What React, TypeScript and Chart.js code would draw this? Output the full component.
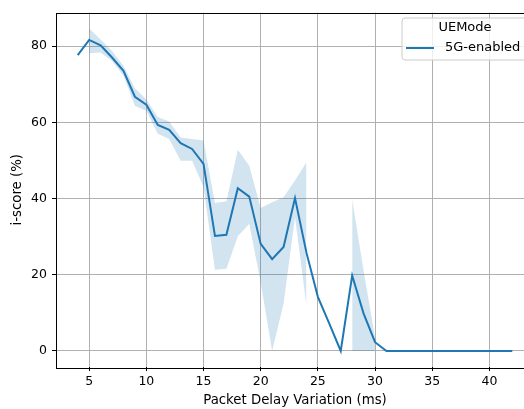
import React, { useEffect, useRef } from "react";
import { Chart, registerables } from "chart.js";

Chart.register(...registerables);

const delays = [4, 5, 6, 7, 8, 9, 10, 11, 12, 13, 14, 15, 16, 17, 18, 19, 20, 21, 22, 23, 24, 25, 26, 27, 28, 29, 30, 31, 32, 33, 34, 35, 36, 37, 38, 39, 40, 41, 42];
const meanScore = [77.6, 81.6, 80.2, 77.0, 73.5, 66.7, 64.6, 59.3, 58.0, 54.5, 53.0, 49.1, 30.2, 30.5, 42.7, 40.5, 28.1, 24.1, 27.3, 40.1, 25.8, 14.2, 7.2, 0, 19.8, 9.8, 2.3, 0, 0, 0, 0, 0, 0, 0, 0, 0, 0, 0, 0];
const upperCI = [null, 84.6, 81.7, 78.7, 74.8, 68.9, 66.0, 61.4, 60.2, 56.0, 55.6, 55.2, 38.8, 39.3, 52.8, 48.6, 37.5, 39.0, 40.3, 44.7, 49.5, null, null, null, 39.9, 21.0, 3.5, null, null, null, null, null, null, null, null, null, null, null, null];
const lowerCI = [null, 78.1, 78.3, 76.1, 72.2, 64.3, 63.0, 57.0, 55.6, 49.9, 49.9, 43.0, 21.3, 21.6, 30.1, 33.4, 18.0, 0, 12.4, 35.1, 12.0, null, null, null, 0, 0, 0, null, null, null, null, null, null, null, null, null, null, null, null];
const xTicks = [5, 10, 15, 20, 25, 30, 35, 40];
const yTicks = [0, 20, 40, 60, 80];
const legendTitle = "UEMode";
const seriesName = "5G-enabled";

const BLUE = "#1f77b4";
const FONT = "'DejaVu Sans', sans-serif";

const framePlugin = {
  id: "frame",
  afterDatasetsDraw(chart: any) {
    const { ctx, chartArea } = chart;
    ctx.save();
    ctx.strokeStyle = "#000";
    ctx.lineWidth = 1;
    ctx.strokeRect(
      Math.round(chartArea.left) + 0.5,
      Math.round(chartArea.top) + 0.5,
      Math.round(chartArea.right - chartArea.left),
      Math.round(chartArea.bottom - chartArea.top)
    );
    ctx.restore();
  },
};

const legendPlugin = {
  id: "mplLegend",
  afterDraw(chart: any) {
    const { ctx } = chart;
    const x0 = 402, y0 = 18, w = 126, h = 42;
    ctx.save();
    ctx.beginPath();
    const r = 3;
    ctx.moveTo(x0 + r, y0);
    ctx.lineTo(x0 + w - r, y0);
    ctx.arcTo(x0 + w, y0, x0 + w, y0 + r, r);
    ctx.lineTo(x0 + w, y0 + h - r);
    ctx.arcTo(x0 + w, y0 + h, x0 + w - r, y0 + h, r);
    ctx.lineTo(x0 + r, y0 + h);
    ctx.arcTo(x0, y0 + h, x0, y0 + h - r, r);
    ctx.lineTo(x0, y0 + r);
    ctx.arcTo(x0, y0, x0 + r, y0, r);
    ctx.closePath();
    ctx.fillStyle = "rgba(255,255,255,0.8)";
    ctx.fill();
    ctx.strokeStyle = "#cccccc";
    ctx.lineWidth = 1;
    ctx.stroke();
    ctx.fillStyle = "#000";
    ctx.font = `13px ${FONT}`;
    ctx.textBaseline = "middle";
    ctx.textAlign = "center";
    ctx.fillText(legendTitle, x0 + w / 2, 28);
    ctx.strokeStyle = BLUE;
    ctx.lineWidth = 2;
    ctx.beginPath();
    ctx.moveTo(406, 48);
    ctx.lineTo(434, 48);
    ctx.stroke();
    ctx.textAlign = "left";
    ctx.fillText(seriesName, 445, 48);
    ctx.restore();
  },
};

export default function App() {
  const ref = useRef<HTMLCanvasElement>(null);
  useEffect(() => {
    const canvas = ref.current!;
    const pts = (arr: (number | null)[]) => delays.map((x, i) => ({ x, y: arr[i] }));
    const chart = new Chart(canvas, {
      type: "line",
      data: {
        datasets: [
          {
            data: pts(upperCI) as any,
            borderWidth: 0,
            borderColor: "rgba(0,0,0,0)",
            backgroundColor: "rgba(31,119,180,0.2)",
            pointRadius: 0,
            fill: "+1",
            spanGaps: false,
          },
          {
            data: pts(lowerCI) as any,
            borderWidth: 0,
            borderColor: "rgba(0,0,0,0)",
            backgroundColor: "rgba(31,119,180,0.2)",
            pointRadius: 0,
            fill: false,
            spanGaps: false,
          },
          {
            data: pts(meanScore) as any,
            borderColor: BLUE,
            borderWidth: 2,
            pointRadius: 0,
            fill: false,
            tension: 0,
          },
        ],
      },
      options: {
        animation: false,
        responsive: false,
        devicePixelRatio: 1,
        layout: { padding: { top: 11, right: 6, left: 0, bottom: 0 } },
        plugins: { legend: { display: false }, tooltip: { enabled: false } },
        font: { family: FONT, size: 12.5 },
        scales: {
          x: {
            type: "linear",
            min: 2.1,
            max: 43.9,
            afterBuildTicks: (s: any) => {
              s.ticks = xTicks.map((v) => ({ value: v }));
            },
            afterFit: (s: any) => {
              s.height = 42;
            },
            grid: { color: "#b0b0b0", lineWidth: 1, tickColor: "#000", tickLength: 4, drawTicks: true },
            border: { display: false },
            ticks: { color: "#000", padding: 3, font: { family: FONT, size: 12.5 }, maxRotation: 0 },
            title: { display: true, text: "Packet Delay Variation (ms)", color: "#000", font: { family: FONT, size: 13.3 }, padding: { top: 1, bottom: 0 } },
          },
          y: {
            type: "linear",
            min: -4.2,
            max: 88.8,
            afterBuildTicks: (s: any) => {
              s.ticks = yTicks.map((v) => ({ value: v }));
            },
            afterFit: (s: any) => {
              s.width = 56;
            },
            grid: { color: "#b0b0b0", lineWidth: 1, tickColor: "#000", tickLength: 4, drawTicks: true },
            border: { display: false },
            ticks: { color: "#000", padding: 5, font: { family: FONT, size: 12.5 } },
            title: { display: true, text: "i-score (%)", color: "#000", font: { family: FONT, size: 13.3 }, padding: { top: 10, bottom: 2 } },
          },
        },
      },
      plugins: [framePlugin, legendPlugin],
    } as any);
    return () => chart.destroy();
  }, []);
  return (
    <div style={{ position: "fixed", left: 0, top: 0, width: 524, height: 409, overflow: "hidden", background: "#fff" }}>
      <canvas ref={ref} width={540} height={409} style={{ width: 540, height: 409, display: "block" }} />
    </div>
  );
}
